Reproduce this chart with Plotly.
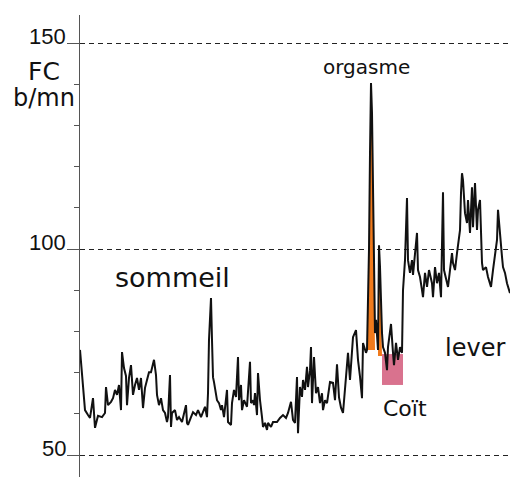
import plotly.graph_objects as go

# time (arbitrary units, left axis = 0) and heart rate (b/mn)
time = [0, 3, 5, 8, 10, 13, 15, 18, 22, 25, 26, 28, 31, 33, 35, 37, 39, 41, 42, 44,
        46, 47, 49, 51, 53, 55, 57, 59, 61, 63, 65, 67, 69, 71, 73, 74, 76, 77, 79, 81,
        83, 85, 87, 88, 90, 91, 92, 95, 97, 99, 102, 103, 106, 107, 108, 111, 113, 116, 118, 121,
        123, 125, 127, 128, 129, 131, 132, 133, 134, 135, 137, 139, 141, 142, 144, 147, 148, 151, 152, 154,
        156, 158, 159, 161, 162, 164, 167, 170, 171, 173, 174, 175, 177, 178, 180, 182, 183, 185, 187, 188,
        191, 193, 197, 200, 203, 206, 208, 211, 213, 215, 217, 218, 220, 222, 223, 225, 227, 228, 230, 231,
        232, 234, 236, 238, 240, 242, 243, 245, 247, 250, 253, 255, 257, 259, 261, 263, 265, 267, 268, 270,
        272, 273, 276, 278, 280, 282, 283, 286, 287, 289, 290, 291, 292, 293, 294, 295, 296, 298, 299, 300, 302, 303,
        305, 307, 308, 311, 313, 314, 316, 318, 320, 322, 323, 325, 327, 328, 330, 332, 333, 335, 337, 338,
        340, 342, 343, 345, 347, 349, 352, 353, 355, 357, 359, 361, 363, 364, 366, 368, 370, 372, 373, 375,
        377, 378, 380, 381, 382, 383, 385, 387, 388, 390, 392, 393, 395, 397, 398, 400, 401, 402, 403, 406,
        408, 411, 413, 415, 417, 418, 420, 422, 423, 425, 427, 428, 430]
heart_rate = [75.5, 65.8, 60.9, 59.7, 59.0, 63.8, 56.6, 59.5, 59.2, 60.2, 66.5, 62.1, 62.9, 63.8, 65.8, 64.6, 67.0, 60.9, 75.0, 71.1,
              69.2, 62.1, 68.7, 71.8, 64.6, 67.0, 68.7, 65.8, 68.7, 61.4, 66.3, 68.2, 70.1, 70.1, 72.6, 73.1, 69.4, 64.6, 62.1, 63.8,
              60.9, 60.2, 58.0, 59.2, 69.4, 56.8, 60.2, 60.9, 58.5, 59.2, 58.0, 59.0, 62.1, 57.8, 57.3, 59.2, 60.4, 59.7, 60.9, 59.2,
              60.4, 61.7, 59.2, 65.0, 78.0, 88.1, 77.9, 68.9, 67.7, 65.8, 63.3, 62.6, 60.9, 62.1, 59.2, 65.8, 58.0, 57.3, 62.6, 65.8,
              64.1, 73.8, 63.3, 67.0, 60.9, 63.3, 61.7, 72.6, 62.6, 63.3, 62.1, 65.0, 59.7, 69.9, 63.3, 59.2, 56.8, 57.8, 56.1, 57.8,
              56.8, 58.0, 58.0, 59.0, 59.7, 59.0, 60.2, 62.9, 58.5, 57.8, 68.9, 55.3, 66.5, 64.1, 68.2, 65.8, 71.4, 66.5, 70.6, 76.2,
              62.6, 73.8, 65.0, 66.5, 62.6, 65.0, 60.9, 63.3, 62.6, 67.7, 67.5, 63.3, 72.0, 64.0, 61.5, 60.2, 66.0, 71.4, 74.8, 68.2,
              74.0, 78.6, 80.3, 73.1, 69.0, 63.8, 77.2, 74.8, 75.5, 100.0, 123.3, 140.3, 133.0, 112.0, 92.0, 79.6, 82.8, 75.5, 100.9, 95.6, 79.6, 76.2,
              74.8, 70.6, 76.2, 81.8, 74.8, 71.8, 77.2, 73.1, 76.2, 74.8, 90.0, 97.3, 112.4, 97.3, 94.2, 97.3, 93.7, 98.1, 103.9, 94.9,
              93.2, 90.0, 88.3, 94.2, 90.8, 94.9, 91.7, 88.3, 95.6, 91.7, 94.2, 88.3, 113.8, 94.9, 92.5, 90.8, 94.9, 99.0, 96.6, 94.9,
              99.0, 100.5, 104.6, 113.6, 118.4, 116.7, 108.7, 106.3, 111.9, 103.9, 115.0, 105.3, 116.0, 104.6, 109.5, 111.9, 103.9, 96.6, 94.9, 95.6,
              93.2, 90.8, 94.9, 98.1, 102.2, 109.5, 102.9, 98.1, 95.6, 94.2, 91.7, 90.8, 89.3]

# orgasm peaks shaded orange (start, end, base level)
orgasm_spans = [(287, 295, 75.5), (298, 302, 74.0)]
# coitus period (start, end, low, high)
coit_span = (302, 323, 67.0, 74.5)

major_ticks = [50, 100, 150]
tick_labels = ["50", "100", "150"]

fig = go.Figure()

for (t0, t1, base) in orgasm_spans:
    xs = [t for t in time if t0 <= t <= t1]
    ys = [max(h, base) for t, h in zip(time, heart_rate) if t0 <= t <= t1]
    fig.add_trace(go.Scatter(
        x=xs + xs[::-1], y=ys + [base] * len(xs),
        fill="toself", fillcolor="#f07a1c", line=dict(width=0),
        mode="lines", hoverinfo="skip", showlegend=False))

fig.add_shape(type="rect", xref="x", yref="y",
              x0=coit_span[0], x1=coit_span[1], y0=coit_span[2], y1=coit_span[3],
              fillcolor="#d9728e", line=dict(width=0), layer="below")

fig.add_trace(go.Scatter(x=time, y=heart_rate, mode="lines",
                         line=dict(color="#111111", width=2.0),
                         hoverinfo="skip", showlegend=False))

ann = []
for v, lab in zip(major_ticks, tick_labels):
    ann.append(dict(x=0, xref="paper", y=v + 1.5, yref="y", text=lab,
                    xanchor="right", yanchor="middle", xshift=-12, showarrow=False,
                    font=dict(family="Liberation Sans", size=22, color="#111")))

txt_font = "DejaVu Sans"
ann += [
    dict(x=0, xref="paper", y=143.0, yref="y", text="FC", xanchor="center", yanchor="middle",
         xshift=-36, showarrow=False, font=dict(family=txt_font, size=25, color="#111")),
    dict(x=0, xref="paper", y=136.7, yref="y", text="b/mn", xanchor="center", yanchor="middle",
         xshift=-36, showarrow=False, font=dict(family=txt_font, size=24, color="#111")),
    dict(x=92, y=93.0, text="sommeil", showarrow=False, xanchor="center", yanchor="middle",
         font=dict(family=txt_font, size=27, color="#111")),
    dict(x=286, y=144.2, text="orgasme", showarrow=False, xanchor="center", yanchor="middle",
         font=dict(family=txt_font, size=20, color="#111")),
    dict(x=325, y=61.2, text="Coït", showarrow=False, xanchor="center", yanchor="middle",
         font=dict(family=txt_font, size=22, color="#111")),
    dict(x=395, y=76.0, text="lever", showarrow=False, xanchor="center", yanchor="middle",
         font=dict(family=txt_font, size=24, color="#111")),
]

fig.update_layout(
    width=510, height=477,
    margin=dict(l=80, r=0, t=15, b=0),
    paper_bgcolor="white", plot_bgcolor="white",
    annotations=ann,
    xaxis=dict(range=[0, 430], visible=False, fixedrange=True),
    yaxis=dict(range=[44.66, 156.8], tickmode="linear", tick0=0, dtick=50,
               showticklabels=False, ticks="outside", ticklen=12, tickcolor="#555",
               tickwidth=1.2, showline=True, linecolor="#555", linewidth=1.3,
               showgrid=True, gridcolor="#222", gridwidth=1, griddash="5px,4px",
               zeroline=False,
               minor=dict(dtick=10, tick0=0, ticks="outside", ticklen=5,
                          tickcolor="#555", tickwidth=1.2, showgrid=False)),
)

fig.write_html("out.html", config={"displayModeBar": False},
               post_script="document.body.style.margin='0';document.body.style.overflow='hidden';")
